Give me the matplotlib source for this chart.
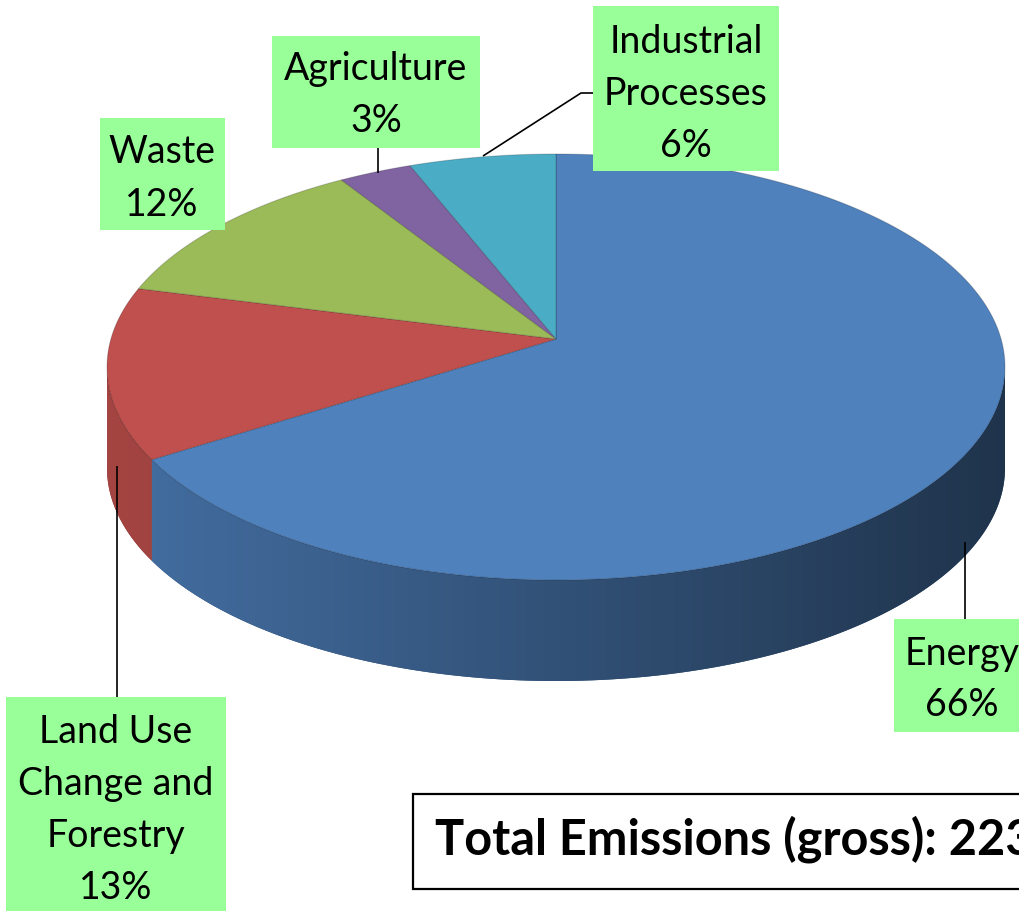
import numpy as np
import matplotlib
matplotlib.use("Agg")
import matplotlib.pyplot as plt
from matplotlib.patches import Polygon, Rectangle
from matplotlib.colors import to_rgb

# ---------------- data ----------------
categories = ["Energy", "Land Use Change and Forestry", "Waste", "Agriculture", "Industrial Processes"]
label_lines = [["Energy"], ["Land Use", "Change and", "Forestry"], ["Waste"], ["Agriculture"],
               ["Industrial", "Processes"]]
shares = [66, 13, 12, 3, 6]
slice_colors = ["#4F81BD", "#C0504D", "#9BBB59", "#8064A2", "#4BACC6"]
total_text = "Total Emissions (gross): 223"

plt.rcParams['font.family'] = ['Lato', 'DejaVu Sans']

W, H = 1019, 912
fig = plt.figure(figsize=(W / 100, H / 100), dpi=100)
fig.patch.set_facecolor("white")
ax = fig.add_axes([0, 0, 1, 1])

# pie geometry in pixels (top face ellipse) and perspective tilt
cx, cy, rx, ry, depth_px = 556, 368, 449, 213, 101
depth = depth_px / ry
k = 28 / ry  # apex sits above the ellipse centre (perspective)


def persp(x, y):
    """Projective view of the flat pie disc: circle -> centred ellipse."""
    d = 1 + k * y
    return np.sqrt(1 - k ** 2) * x / d, (y + k) / d


wedges, _ = ax.pie(shares, colors=slice_colors, startangle=90, counterclock=False,
                   radius=1, center=(0, 0))

edge_rgba = (0, 0, 0, 0.18)
lim = np.degrees(np.arcsin(k))
xs_grad = np.linspace(-1, 1, 400)
for w, col in zip(wedges, slice_colors):
    t1, t2 = w.theta1, w.theta2
    r = w.r
    c0, c1 = w.center
    # top face of the slice, seen in perspective
    t = np.radians(np.linspace(t1, t2, 400))
    px, py = persp(np.r_[c0, c0 + r * np.cos(t)], np.r_[c1, c1 + r * np.sin(t)])
    ax.add_patch(Polygon(np.column_stack([px, py]), closed=True, facecolor=col,
                         edgecolor=edge_rgba, linewidth=0.8, zorder=3))
    w.set_visible(False)
    # visible front part of the side wall
    base = np.array(to_rgb(col))
    for kk in (-1, 0, 1):
        a = max(t1, -180 + lim + 360 * kk)
        b = min(t2, -lim + 360 * kk)
        if b > a:
            tt = np.radians(np.linspace(a, b, 300))
            ux, uy = persp(c0 + r * np.cos(tt), c1 + r * np.sin(tt))
            top = np.column_stack([ux, uy])
            bot = np.column_stack([ux[::-1], uy[::-1] - depth])
            poly = Polygon(np.vstack([top, bot]), closed=True,
                           facecolor=base * 0.6, edgecolor='none', zorder=1)
            ax.add_patch(poly)
            fac = 0.86 - 0.46 * (xs_grad + 1) / 2
            img = (base[None, :] * fac[:, None])[None, :, :]
            im = ax.imshow(img, extent=(-1, 1, -1 - depth, 1), aspect='auto',
                           zorder=1.5, interpolation='bilinear')
            im.set_clip_path(poly)

ax.set_aspect('auto')
ax.set_xlim(-cx / rx, (W - cx) / rx)
ax.set_ylim(-(H - cy) / ry, cy / ry)
ax.axis('off')

# ---------------- overlay for labels (pixel coordinates) ----------------
ov = fig.add_axes([0, 0, 1, 1], facecolor='none')
ov.set_xlim(0, W)
ov.set_ylim(H, 0)
ov.axis('off')

box_color = "#99FF99"
# (x, y, w, h, text centre x, baselines)
label_layout = {
    "Energy": (894, 620, 160, 113, 962, [665, 716]),
    "Land Use Change and Forestry": (6, 698, 220, 220, 116, [743, 795, 847, 899]),
    "Waste": (100, 119, 125, 112, 162, [163, 216]),
    "Agriculture": (272, 37, 208, 112, 376, [80, 132]),
    "Industrial Processes": (593, 7, 186, 165, 686, [53, 105, 157]),
}

for name, lines, share in zip(categories, label_lines, shares):
    x, y, w, h, tx, bls = label_layout[name]
    ov.add_patch(Rectangle((x, y), w, h, facecolor=box_color, edgecolor='none', zorder=5))
    texts = lines + [f"{share}%"]
    for s, bl in zip(texts, bls):
        ov.text(tx, bl, s, ha='center', va='baseline', fontsize=27, color='black', zorder=6)

# leader lines
leaders = [
    ([483, 581, 593], [157, 94, 94]),
    ([378, 378], [149, 174]),
    ([117, 117], [467, 698]),
    ([965, 965], [543, 620]),
]
for lx, ly in leaders:
    ov.plot(lx, ly, color='black', lw=1.2, zorder=4, solid_capstyle='butt')

# total box
ov.add_patch(Rectangle((413, 795), 700, 95, facecolor='white', edgecolor='black', lw=1.6, zorder=5))
ov.text(435, 855, total_text, ha='left', va='baseline', fontsize=35, fontweight='bold',
        color='black', zorder=6)

fig.savefig("out.png", dpi=100, facecolor="white")
